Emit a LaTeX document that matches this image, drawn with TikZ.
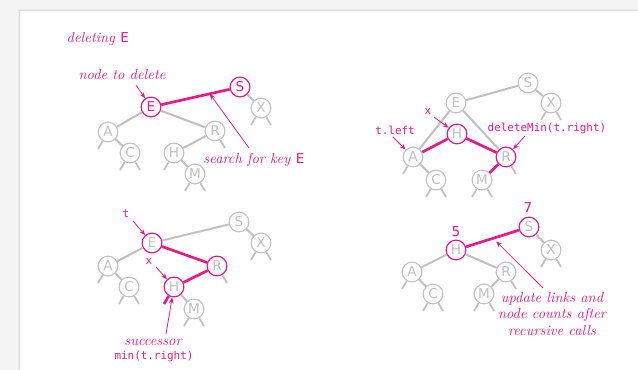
\documentclass[tikz,border=0pt]{standalone}
\usepackage{fontspec}
\newfontfamily\keyfont{DejaVu Sans}
\setmonofont{DejaVu Sans Mono}
\usetikzlibrary{arrows.meta,calc}
\definecolor{mag}{RGB}{230,25,135}
\definecolor{lgray}{RGB}{192,192,192}
\definecolor{pagebg}{RGB}{244,244,244}

\begin{document}
\begin{tikzpicture}[x=0.75pt,y=-0.75pt,
  key/.style={circle,draw=lgray,fill=white,line width=0.8pt,minimum size=14.8pt,
    inner sep=0pt,text=lgray,font=\keyfont\fontsize{10.2}{10}\selectfont},
  hot/.style={draw=mag,line width=0.9pt},
  hotkey/.style={hot,text=mag},
  link/.style={draw=lgray,line width=1.5pt},
  hotlink/.style={draw=mag,line width=2pt},
  nil/.style={draw=lgray,line width=1.3pt},
  hotnil/.style={draw=mag,line width=2pt},
  ann/.style={draw=mag,line width=0.6pt,-{Stealth[length=4.5pt,width=3.5pt]}},
  note/.style={text=mag,font=\itshape\fontsize{10.8}{12.2}\selectfont},
  code/.style={text=mag,font=\ttfamily\fontsize{8.2}{9}\selectfont},
  num/.style={text=mag,font=\keyfont\fontsize{10.2}{10}\selectfont},
]
\useasboundingbox (0,0) rectangle (638,370);

% page on a grey desk, with a soft shadow on its upper and left edges
\fill[pagebg] (0,0) rectangle (638,370);
\fill[black!4] (16,7) rectangle (638,370);
\fill[black!8] (18,9) rectangle (638,370);
\fill[black!14] (19,10) rectangle (638,370);
\fill[white] (20,11) rectangle (638,370);

% ---------- search for the key ----------
\node[note,anchor=base west] (title) at (62,43) {deleting \textup{\keyfont\fontsize{10.2}{10}\selectfont E}};

\node[key,hotkey] (S1) at (240,87) {S};
\node[key] (X1) at (261,108) {X};
\node[key,hotkey] (E1) at (151,107) {E};
\node[key] (A1) at (108,132) {A};
\node[key] (R1) at (215,131) {R};
\node[key] (C1) at (130,153) {C};
\node[key] (H1) at (174,153) {H};
\node[key] (M1) at (195,174) {M};
\draw[hotlink] (E1) -- (S1);
\draw[link] (S1) -- (X1) (E1) -- (A1) (E1) -- (R1) (A1) -- (C1) (R1) -- (H1) (H1) -- (M1);
\draw[nil] (X1) -- ++(-10,17) (X1) -- ++(10,17)
           (A1) -- ++(-10,17)
           (C1) -- ++(-10,17) (C1) -- ++(10,17)
           (R1) -- ++(10,17)
           (H1) -- ++(-10,17)
           (M1) -- ++(-10,17) (M1) -- ++(10,17);

\node[note] (del) at (122,75) {node to delete};
\coordinate (delfrom) at (136,85);
\draw[ann] (delfrom) -- (E1);
\node[note] (srch) at (254,160) {search for key \textup{\keyfont\fontsize{10.2}{10}\selectfont E}};
\coordinate (srchfrom) at (249,148);
\coordinate (srchto) at ($(E1)!0.66!(S1)$);
\draw[ann] (srchfrom) -- (srchto);

% ---------- delete the minimum of the right subtree ----------
\node[key] (S2) at (528,83) {S};
\node[key] (X2) at (551,103) {X};
\node[key] (E2) at (456,103) {E};
\node[key,hot] (H2) at (457,134) {H};
\node[key] (A2) at (413,157) {A};
\node[key,hot] (R2) at (506,157) {R};
\node[key] (C2) at (436,180) {C};
\node[key] (M2) at (482,180) {M};
\draw[link] (E2) -- (S2) (S2) -- (X2) (E2) -- (A2) (E2) -- (R2) (A2) -- (C2);
\draw[hotlink] (A2) -- (H2) (H2) -- (R2) (R2) -- (M2);
\draw[nil] (X2) -- ++(-10,17) (X2) -- ++(10,17)
           (A2) -- ++(-10,17)
           (C2) -- ++(-10,17) (C2) -- ++(10,17)
           (R2) -- ++(10,17)
           (M2) -- ++(-10,17) (M2) -- ++(10,17);

\node[code] (x2) at (428,112) {x};
\coordinate (x2from) at (434,117);
\draw[ann] (x2from) -- (H2);
\node[code] (tl) at (395,130) {t.left};
\coordinate (tlfrom) at (393,137);
\draw[ann] (tlfrom) -- (A2);
\node[code,anchor=west] (dm) at (483,128) {deleteMin(t.right)};
\coordinate (dmfrom) at (525,136);
\draw[ann] (dmfrom) -- (R2);

% ---------- find the successor ----------
\node[key] (S3) at (239,222) {S};
\node[key] (X3) at (261,243) {X};
\node[key,hot] (E3) at (152,243) {E};
\node[key] (A3) at (108,266) {A};
\node[key,hot] (R3) at (217,266) {R};
\node[key] (C3) at (129,287) {C};
\node[key,hot] (H3) at (174,287) {H};
\node[key] (M3) at (194,309) {M};
\draw[link] (E3) -- (S3) (S3) -- (X3) (E3) -- (A3) (A3) -- (C3) (H3) -- (M3);
\draw[hotlink] (E3) -- (R3) (R3) -- (H3);
\draw[nil] (X3) -- ++(-10,17) (X3) -- ++(10,17)
           (A3) -- ++(-10,17)
           (C3) -- ++(-10,17) (C3) -- ++(10,17)
           (R3) -- ++(10,17)
           (M3) -- ++(-10,17) (M3) -- ++(10,17);
\draw[hotnil] (H3) -- ++(-10,17);

\node[code] (t3) at (126,214) {t};
\coordinate (t3from) at (133,221);
\draw[ann] (t3from) -- (E3);
\node[code] (x3) at (149,262) {x};
\coordinate (x3from) at (156,267);
\draw[ann] (x3from) -- (H3);
\node[note] (succ) at (153,342) {successor};
\node[code] (minr) at (154,357) {min(t.right)};
\coordinate (succfrom) at (166,334);
\draw[ann] (succfrom) -- (H3);

% ---------- successor in place of the deleted node ----------
\node[key,hot] (S4) at (529,227) {S};
\node[key] (X4) at (551,250) {X};
\node[key,hot] (H4) at (456,250) {H};
\node[key] (A4) at (412,272) {A};
\node[key] (R4) at (506,272) {R};
\node[key] (C4) at (433,294) {C};
\node[key] (M4) at (484,294) {M};
\draw[hotlink] (H4) -- (S4);
\draw[link] (S4) -- (X4) (H4) -- (A4) (H4) -- (R4) (A4) -- (C4) (R4) -- (M4);
\draw[nil] (X4) -- ++(-10,17) (X4) -- ++(10,17)
           (A4) -- ++(-10,17)
           (C4) -- ++(-10,17) (C4) -- ++(10,17)
           (R4) -- ++(10,17)
           (M4) -- ++(-10,17) (M4) -- ++(10,17);

\node[num] (n5) at (456,232) {5};
\node[num] (n7) at (528,208) {7};
\node[note,align=center] (upd) at (552,314) {update links and\\node counts after\\recursive calls};
\coordinate (updfrom) at (543,288);
\coordinate (updto) at ($(H4)!0.55!(S4)+(0,4)$);
\draw[ann] (updfrom) -- (updto);

\end{tikzpicture}
\end{document}
